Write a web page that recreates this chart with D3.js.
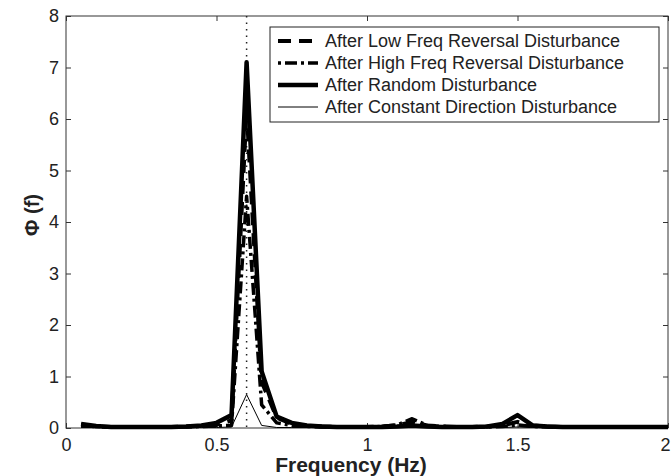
<!DOCTYPE html>
<html>
<head>
<meta charset="utf-8">
<script src="https://cdn.jsdelivr.net/npm/d3@7"></script>
<style>
  body { margin: 0; background: #fff; }
  svg { font-family: Arial, "Liberation Sans", sans-serif; }
</style>
</head>
<body>
<div id="chart"></div>
<script>
// frequency samples (Hz)
const freqs = [0.05,0.1,0.15,0.2,0.25,0.3,0.35,0.4,0.45,0.5,0.55,0.6,0.65,0.7,0.75,0.8,0.85,0.9,0.95,1.0,
               1.05,1.1,1.15,1.2,1.25,1.3,1.35,1.4,1.45,1.5,1.55,1.6,1.65,1.7,1.75,1.8,1.85,1.9,1.95,2.0];

const lowFreq  = [0.06,0.03,0.02,0.02,0.02,0.02,0.02,0.03,0.04,0.06,0.15,6.2,0.9,0.2,0.08,0.04,0.03,0.02,0.02,0.02,
                  0.03,0.05,0.12,0.05,0.03,0.02,0.02,0.03,0.05,0.12,0.05,0.03,0.02,0.02,0.02,0.02,0.02,0.02,0.02,0.02];
const highFreq = [0.05,0.03,0.02,0.02,0.02,0.02,0.02,0.02,0.03,0.04,0.05,4.5,0.45,0.1,0.05,0.03,0.02,0.02,0.02,0.02,
                  0.03,0.06,0.18,0.05,0.03,0.02,0.02,0.02,0.03,0.06,0.03,0.02,0.02,0.02,0.02,0.02,0.02,0.02,0.02,0.02];
const randomD  = [0.08,0.04,0.02,0.02,0.02,0.02,0.02,0.03,0.05,0.1,0.25,7.1,1.1,0.22,0.1,0.05,0.03,0.02,0.02,0.02,
                  0.02,0.03,0.05,0.03,0.02,0.02,0.02,0.03,0.08,0.25,0.05,0.03,0.02,0.02,0.02,0.02,0.02,0.02,0.02,0.02];
const constDir = [0.01,0.01,0.01,0.01,0.01,0.01,0.01,0.01,0.01,0.01,0.02,0.65,0.05,0.01,0.01,0.01,0.01,0.01,0.01,0.01,
                  0.01,0.01,0.01,0.01,0.01,0.01,0.01,0.01,0.01,0.02,0.01,0.01,0.01,0.01,0.01,0.01,0.01,0.01,0.01,0.01];

const seriesNames = ["After Low Freq Reversal Disturbance", "After High Freq Reversal Disturbance",
                     "After Random Disturbance", "After Constant Direction Disturbance"];
const xTicks = [0, 0.5, 1, 1.5, 2];
const yTicks = [0, 1, 2, 3, 4, 5, 6, 7, 8];
const peakFreq = 0.6;

const w = 671, h = 476;
const margin = {left: 66, right: 3, top: 16, bottom: 48};

const svg = d3.select("#chart").append("svg")
    .attr("width", w)
    .attr("height", h);

const xScale = d3.scaleLinear().domain([0, 2]).range([margin.left, w - margin.right]);
const yScale = d3.scaleLinear().domain([0, 8]).range([h - margin.bottom, margin.top]);

const styles = [
    {data: lowFreq,  width: 4,   dash: "13,8"},
    {data: highFreq, width: 3.5, dash: "3,4,12,4"},
    {data: randomD,  width: 4.5, dash: null},
    {data: constDir, width: 1,   dash: null}
];

// axis box
svg.append("rect")
    .attr("x", xScale(0)).attr("y", yScale(8))
    .attr("width", xScale(2) - xScale(0))
    .attr("height", yScale(0) - yScale(8))
    .attr("fill", "none").attr("stroke", "#333").attr("stroke-width", 1);

// ticks (inward, on all sides)
const axColor = "#333";
const axBottom = svg.append("g").attr("transform", `translate(0,${yScale(0)})`)
    .call(d3.axisBottom(xScale).tickValues(xTicks).tickSize(-5).tickPadding(10).tickFormat(d3.format("")));
const axTop = svg.append("g").attr("transform", `translate(0,${yScale(8)})`)
    .call(d3.axisTop(xScale).tickValues(xTicks).tickSize(-5).tickFormat(""));
const axLeft = svg.append("g").attr("transform", `translate(${xScale(0)},0)`)
    .call(d3.axisLeft(yScale).tickValues(yTicks).tickSize(-5).tickPadding(7));
const axRight = svg.append("g").attr("transform", `translate(${xScale(2)},0)`)
    .call(d3.axisRight(yScale).tickValues(yTicks).tickSize(-5).tickFormat(""));

[axBottom, axTop, axLeft, axRight].forEach(function(g) {
    g.select(".domain").remove();
    g.selectAll("line").attr("stroke", axColor);
    g.selectAll("text")
        .attr("fill", "#222")
        .style("font-size", "18px")
        .style("font-family", "Arial, 'Liberation Sans', sans-serif");
});
// last x label sits at the right edge: keep it inside the page
axBottom.selectAll(".tick text")
    .filter(function(d) { return d === 2; })
    .attr("text-anchor", "end")
    .attr("dx", 2);

// dotted line at peak frequency
svg.append("line")
    .attr("x1", xScale(peakFreq)).attr("x2", xScale(peakFreq))
    .attr("y1", yScale(8)).attr("y2", yScale(0))
    .attr("stroke", "#222").attr("stroke-width", 1.5)
    .attr("stroke-dasharray", "1.5,5");

const line = d3.line()
    .x(function(d) { return xScale(d[0]); })
    .y(function(d) { return yScale(d[1]); });

styles.forEach(function(s) {
    svg.append("path")
        .datum(freqs.map(function(f, i) { return [f, s.data[i]]; }))
        .attr("d", line)
        .attr("fill", "none")
        .attr("stroke", "#000")
        .attr("stroke-width", s.width)
        .attr("stroke-linejoin", "round")
        .attr("stroke-dasharray", s.dash);
});

// legend
const lg = svg.append("g").attr("transform", "translate(270,27)");
lg.append("rect")
    .attr("width", 389).attr("height", 95)
    .attr("fill", "#fff").attr("stroke", "#222").attr("stroke-width", 1);

styles.forEach(function(s, i) {
    const y = 14 + i * 22;
    lg.append("line")
        .attr("x1", 8).attr("x2", 48)
        .attr("y1", y).attr("y2", y)
        .attr("stroke", "#000")
        .attr("stroke-width", s.width)
        .attr("stroke-dasharray", s.dash);
    lg.append("text")
        .attr("x", 55).attr("y", y)
        .attr("dy", "0.35em")
        .attr("fill", "#222")
        .style("font-size", "18px")
        .text(seriesNames[i]);
});

// axis labels
svg.append("text")
    .attr("text-anchor", "middle")
    .attr("x", 351)
    .attr("y", 472)
    .attr("fill", "#222")
    .style("font-weight", "bold")
    .style("font-size", "21px")
    .text("Frequency (Hz)");

svg.append("text")
    .attr("text-anchor", "middle")
    .attr("transform", `translate(39,215) rotate(-90)`)
    .attr("fill", "#222")
    .style("font-weight", "bold")
    .style("font-size", "20px")
    .text("Φ (f)");
</script>
</body>
</html>
